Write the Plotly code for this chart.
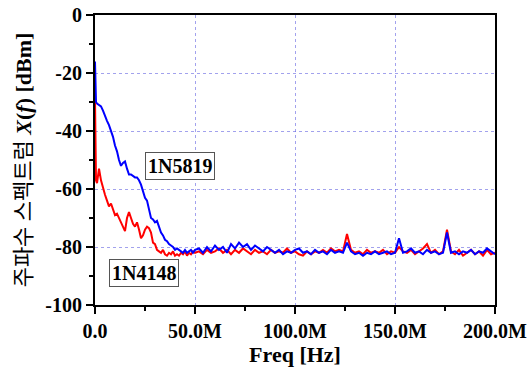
import plotly.graph_objects as go

# Frequency axis in MHz
freq_fine = [0, 0.2, 0.5] + list(range(1, 51))
freq_coarse = list(range(52, 201, 2))
freq = freq_fine + freq_coarse

blue_1n5819 = [
    -16, -29, -30,
    -30.5, -31, -31.5, -33, -35, -36.5, -38, -40, -42, -45,
    -47, -50, -52, -51, -50.5, -53, -55, -55, -55.5, -56,
    -56, -57, -58.5, -61, -63, -64, -67, -70, -70.5, -71.5,
    -71, -73, -75, -76, -77.5, -78, -79, -79.5, -80, -81,
    -80.5, -81, -81.5, -82, -81, -82, -81.5, -81, -82, -81,
    # 52..200 step 2
    -80.5, -82, -80, -81.5, -79.5, -81, -80, -82, -79, -80.5,
    -78.5, -80, -79, -81, -79.5, -80.5, -81.5, -80, -81, -82,
    -81, -82.5, -81.5, -82, -81, -80.5, -82, -81.5, -82.5, -81,
    -82, -81.5, -82.5, -81, -82, -81.5, -82, -78.5, -81.5, -82.5,
    -82, -83, -82, -82.5, -81.5, -82.5, -82, -81.5, -82.5, -82,
    -77, -82, -81.5, -80.5, -82, -81.5, -82.5, -81, -82, -81.5,
    -82.5, -82, -75, -82, -81.5, -82.5, -81.5, -82, -81, -82.5,
    -81.5, -82, -80.5, -81.5, -82.5,
]

red_1n4148 = [
    -29, -45, -57,
    -58, -53, -57, -60, -62, -64, -66, -65, -67, -69,
    -68.5, -70, -71, -73, -74.5, -70, -68, -70, -72, -73,
    -71.5, -74, -77, -76, -74, -73, -73.5, -75, -78.5, -79,
    -81, -81.5, -82, -81, -82.5, -83, -82, -82.5, -81.5, -83,
    -82.5, -83, -82, -82.5, -81.5, -83, -82, -82.5, -81.5, -82,
    # 52..200 step 2
    -81.5, -82.5, -81, -82, -81.5, -80.5, -82, -81, -82.5, -81,
    -82, -80.5, -81.5, -82.5, -81, -82, -81.5, -82.5, -81, -82,
    -81.5, -82, -80.5, -82, -81.5, -82.5, -83, -81.5, -82.5, -81.5,
    -82, -81, -82, -80.5, -81.5, -81, -81.5, -75.5, -81, -82,
    -81.5, -82.5, -81, -82, -81.5, -82, -81, -82.5, -81.5, -82,
    -80, -81.5, -82, -81, -82.5, -81.5, -80.5, -79, -82, -81,
    -82.5, -81.5, -74, -81.5, -82.5, -81, -83, -82, -81, -82.5,
    -81.5, -83, -81, -82.5, -82,
]

x_tickvals = [0, 50, 100, 150, 200]
x_ticktext = ["0.0", "50.0M", "100.0M", "150.0M", "200.0M"]
y_tickvals = [0, -20, -40, -60, -80, -100]
y_ticktext = ["0", "-20", "-40", "-60", "-80", "-100"]

labels = ["1N5819", "1N4148"]
label_pos = [(42.5, -52), (24.5, -89)]

serif = "Liberation Serif, Times New Roman, serif"
grid_color = "rgba(100,100,225,0.6)"

fig = go.Figure()
fig.add_trace(go.Scatter(x=freq, y=red_1n4148, mode="lines",
                         line=dict(color="#ff0000", width=2), name="1N4148"))
fig.add_trace(go.Scatter(x=freq, y=blue_1n5819, mode="lines",
                         line=dict(color="#0000ff", width=2), name="1N5819"))

for txt, (ax, ay) in zip(labels, label_pos):
    fig.add_annotation(x=ax, y=ay, text="<b>" + txt + "</b>", showarrow=False,
                       font=dict(family=serif, size=20, color="black"),
                       bordercolor="#555", borderwidth=1, bgcolor="white", borderpad=2)

fig.update_layout(
    width=531, height=370,
    margin=dict(l=95, r=36, t=15, b=65, autoexpand=False),
    paper_bgcolor="white", plot_bgcolor="white",
    showlegend=False,
    font=dict(family=serif, color="black"),
    xaxis=dict(
        automargin=False,
        range=[0, 200], tickvals=x_tickvals, ticktext=x_ticktext,
        tickfont=dict(family=serif, size=20, weight="bold"),
        ticks="outside", ticklen=7, tickwidth=1.5, tickcolor="black",
        minor=dict(dtick=25, ticks="outside", ticklen=4, tickcolor="black", showgrid=False),
        showline=True, linecolor="black", linewidth=2, mirror=True,
        showgrid=True, gridcolor=grid_color, griddash="dot", gridwidth=1,
        zeroline=False,
        title=dict(text="<b>Freq [Hz]</b>", font=dict(family=serif, size=22), standoff=6),
    ),
    yaxis=dict(
        automargin=False,
        range=[-100, 0], tickvals=y_tickvals, ticktext=y_ticktext,
        tickfont=dict(family=serif, size=20, weight="bold"),
        ticks="outside", ticklen=7, tickwidth=1.5, tickcolor="black",
        minor=dict(dtick=10, ticks="outside", ticklen=4, tickcolor="black", showgrid=False),
        showline=True, linecolor="black", linewidth=2, mirror=True,
        showgrid=True, gridcolor=grid_color, griddash="dot", gridwidth=1,
        zeroline=False,
        title=dict(
            text="주파수 스펙트럼 <b><i>X</i>(<i>f</i>) [dBm]</b>",
            font=dict(family="Liberation Serif, Noto Sans CJK KR", size=22),
            standoff=8,
        ),
    ),
)

fig.write_html("out.html")
